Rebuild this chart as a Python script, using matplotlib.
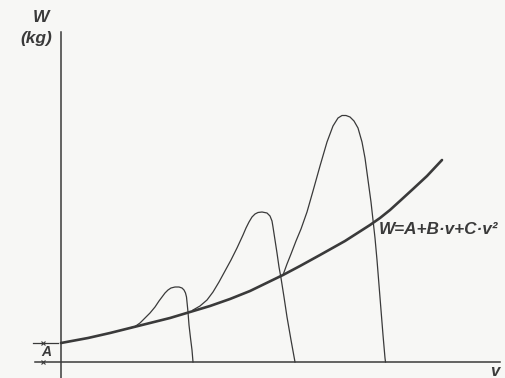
import numpy as np
from matplotlib import pyplot as plt

# main resistance curve W = A + B*v + C*v^2 (arbitrary units)
v_main = [0, 27, 49, 69, 89, 109, 129, 149, 169, 189, 222, 239, 259, 284, 309, 319, 329, 340,
          352, 366, 381]
w_main = [19, 24, 29, 34, 39, 44, 50, 56, 63, 71, 87, 96, 107, 121, 137, 144, 152, 162,
          173, 186, 202]

# the three humps
v_hump1 = [69, 74, 79, 84, 89, 94, 98, 101, 104, 107, 110, 114, 118, 121, 123, 124.5, 125.5,
           126, 127, 128, 129.5, 131, 132]
w_hump1 = [34, 35.5, 39, 44, 49, 55, 61, 65, 69, 72, 74, 75, 75, 74, 72, 69, 65,
           60, 50, 37, 24, 12, 0]

v_hump2 = [132, 139, 146, 152, 158, 164, 170, 176, 182, 185, 188, 191, 194, 197, 201, 206,
           209, 211, 212, 214, 216, 218, 220, 223, 226, 230, 234]
w_hump2 = [52, 56, 62, 70, 80, 91, 102, 114, 127, 134, 140, 145, 148, 149.5, 150, 149,
           146, 141, 135, 122, 109, 95, 84, 65, 45, 22, 0]

v_hump3 = [222, 226, 230, 235, 240, 246, 252, 259, 266, 272, 277, 281, 285, 289, 293, 297,
           301, 304, 307, 310, 312, 314, 316, 318, 320, 322, 324, 324.5]
w_hump3 = [87, 98, 108, 121, 133, 150, 171, 196, 220, 236, 244, 246.5, 246.5, 245, 241, 234,
           220, 204, 182, 160, 142, 124, 102, 77, 52, 27, 4, 0]

A_level = w_main[0]

ink = '#3a3a3a'
font = dict(family=['Liberation Sans', 'DejaVu Sans'], style='italic', weight='bold', color=ink)

fig = plt.figure(figsize=(5.05, 3.78), dpi=100, facecolor='#f7f7f5')
ax = fig.add_axes([0, 0, 1, 1])
ax.set_facecolor('#f7f7f5')
ax.set_xlim(-61, 444)
ax.set_ylim(-16, 362)
ax.axis('off')

# axes
ax.plot([0, 0], [-16, 330], color=ink, lw=1.1)
ax.plot([-26, 439], [0, 0], color=ink, lw=1.1)

# dimension mark for A
ax.plot([-28, -3], [A_level, A_level], color=ink, lw=0.9)
ax.plot([-18, -18], [A_level, 0], ls='none', marker='x', ms=3, color=ink, mew=0.8)
ax.text(-15, 10, 'A', ha='center', va='center', fontsize=10, **font)

# curves
ax.plot(v_main, w_main, color=ink, lw=1.9, solid_capstyle='round', solid_joinstyle='round')
for vv, ww in [(v_hump1, w_hump1), (v_hump2, w_hump2), (v_hump3, w_hump3)]:
    ax.plot(vv, ww, color=ink, lw=0.9, solid_joinstyle='round')

# labels
ax.text(-20, 345, 'W', ha='center', va='center', fontsize=12.5, **font)
ax.text(-25, 324, '(kg)', ha='center', va='center', fontsize=12.5, **font)
ax.text(434, -9, 'v', ha='center', va='center', fontsize=12, **font)
ax.text(318, 132, 'W=A+B·v+C·v²', ha='left', va='center', fontsize=12.3, **font)

fig.savefig('out.png', dpi=100, facecolor=fig.get_facecolor())
